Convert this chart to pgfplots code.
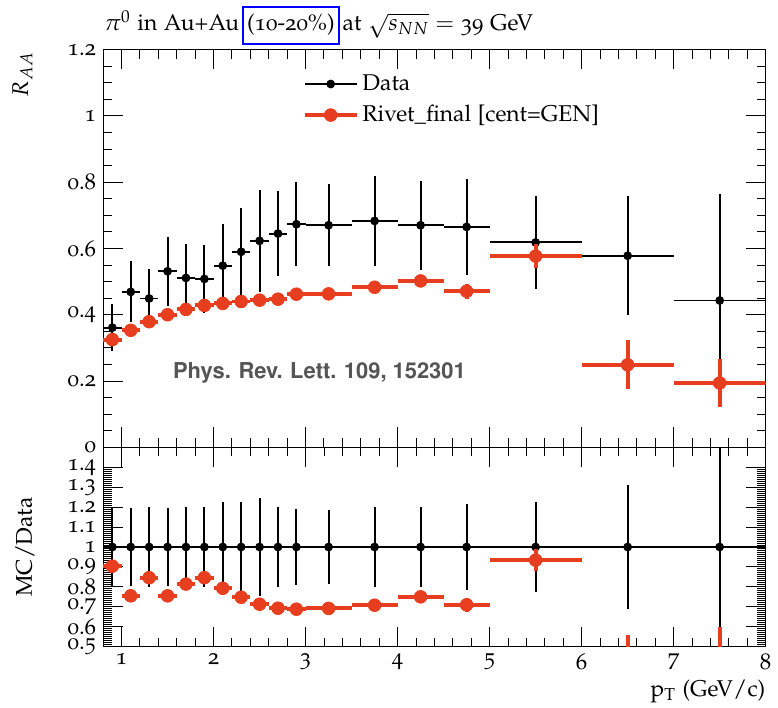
\documentclass[border=0pt]{standalone}
\usepackage[T1]{fontenc}
\usepackage[osf]{mathpazo}
\usepackage[scaled=0.92]{helvet}
\usepackage{pgfplots}
\usepackage{pgfplotstable}
\pgfplotsset{compat=1.18}
\definecolor{rivetred}{RGB}{232,62,32}
\definecolor{notegray}{RGB}{85,85,85}

% R_AA, data
\pgfplotstableread{
x ex y ey
0.9 0.1 0.361 0.070
1.1 0.1 0.469 0.092
1.3 0.1 0.449 0.090
1.5 0.1 0.531 0.105
1.7 0.1 0.511 0.102
1.9 0.1 0.508 0.102
2.1 0.1 0.548 0.125
2.3 0.1 0.590 0.132
2.5 0.1 0.623 0.153
2.7 0.1 0.645 0.128
2.9 0.1 0.673 0.127
3.25 0.25 0.670 0.124
3.75 0.25 0.683 0.137
4.25 0.25 0.670 0.134
4.75 0.25 0.665 0.144
5.5 0.5 0.618 0.140
6.5 0.5 0.578 0.180
7.5 0.5 0.443 0.320
}\datatab

% R_AA, Rivet
\pgfplotstableread{
x ex y ey
0.9 0.1 0.325 0.012
1.1 0.1 0.353 0.012
1.3 0.1 0.379 0.012
1.5 0.1 0.400 0.012
1.7 0.1 0.416 0.012
1.9 0.1 0.428 0.012
2.1 0.1 0.434 0.012
2.3 0.1 0.440 0.012
2.5 0.1 0.444 0.012
2.7 0.1 0.447 0.012
2.9 0.1 0.462 0.012
3.25 0.25 0.463 0.012
3.75 0.25 0.483 0.012
4.25 0.25 0.502 0.012
4.75 0.25 0.471 0.022
5.5 0.5 0.577 0.035
6.5 0.5 0.249 0.074
7.5 0.5 0.194 0.072
}\mctab

% ratio, data
\pgfplotstableread{
x ex y ey
0.9 0.1 1 0.194
1.1 0.1 1 0.196
1.3 0.1 1 0.200
1.5 0.1 1 0.198
1.7 0.1 1 0.200
1.9 0.1 1 0.200
2.1 0.1 1 0.228
2.3 0.1 1 0.224
2.5 0.1 1 0.245
2.7 0.1 1 0.199
2.9 0.1 1 0.189
3.25 0.25 1 0.185
3.75 0.25 1 0.200
4.25 0.25 1 0.200
4.75 0.25 1 0.217
5.5 0.5 1 0.227
6.5 0.5 1 0.311
7.5 0.5 1 0.722
}\rdatatab

% ratio, Rivet/data
\pgfplotstableread{
x ex y ey
0.9 0.1 0.904 0.033
1.1 0.1 0.755 0.026
1.3 0.1 0.846 0.027
1.5 0.1 0.755 0.023
1.7 0.1 0.814 0.023
1.9 0.1 0.846 0.024
2.1 0.1 0.793 0.022
2.3 0.1 0.748 0.020
2.5 0.1 0.713 0.019
2.7 0.1 0.693 0.019
2.9 0.1 0.688 0.018
3.25 0.25 0.692 0.018
3.75 0.25 0.708 0.018
4.25 0.25 0.750 0.018
4.75 0.25 0.710 0.035
5.5 0.5 0.934 0.055
6.5 0.5 0.431 0.128
7.5 0.5 0.438 0.163
}\rmctab

\pgfplotsset{
  rivet/.style={
    scale only axis, width=334pt,
    xmin=0.8, xmax=8,
    xtick={1,2,3,4,5,6,7,8}, minor x tick num=4,
    xtick pos=both, ytick pos=both,
    xticklabel pos=lower, yticklabel pos=left,
    tick align=inside,
    major tick length=10pt, minor tick length=4.5pt,
    every tick/.style={black, line width=0.5pt},
    axis line style={line width=0.6pt},
    font=\fontsize{11.5}{14}\selectfont,
    /pgf/number format/assume math mode=true,
    clip marker paths=true,
  },
  datastyle/.style={only marks, mark=*, mark size=2pt, black,
    mark options={fill=black, draw=black},
    error bars/x dir=both, error bars/x explicit,
    error bars/y dir=both, error bars/y explicit,
    error bars/error mark=none,
    error bars/error bar style={line width=1pt, black}},
  mcstyle/.style={only marks, mark=*, mark size=3.2pt, rivetred,
    mark options={fill=rivetred, draw=rivetred},
    error bars/x dir=both, error bars/x explicit,
    error bars/y dir=both, error bars/y explicit,
    error bars/error mark=none,
    error bars/error bar style={line width=2pt, rivetred}},
}
\setlength{\fboxrule}{1pt}
\setlength{\fboxsep}{1.5pt}

\begin{document}
\begin{tikzpicture}
\begin{axis}[rivet, name=top,
  height=200.5pt,
  ymin=0, ymax=1.2,
  ytick={0,0.2,0.4,0.6,0.8,1,1.2}, minor y tick num=3,
  xticklabels={},
  ylabel={$R_{AA}$},
  ylabel style={at={(rel axis cs:-0.106,0.995)}, anchor=south east, inner sep=0pt},
  legend style={at={(0.292,0.958)}, anchor=north west, draw=none, fill=none,
    row sep=2pt, font=\fontsize{11.5}{14}\selectfont},
  legend cell align=left,
]
\addplot[datastyle, legend image code/.code={
    \draw[black, line width=1pt] (0pt,0pt) -- (26pt,0pt);
    \fill[black] (13pt,0pt) circle (2pt);}]
  table[x=x, y=y, x error=ex, y error=ey] {\datatab};
\addlegendentry{Data}
\addplot[mcstyle, legend image code/.code={
    \draw[rivetred, line width=2pt] (0pt,0pt) -- (26pt,0pt);
    \fill[rivetred] (13pt,0pt) circle (3.2pt);}]
  table[x=x, y=y, x error=ex, y error=ey] {\mctab};
\addlegendentry{Rivet\_final [cent=GEN]}
\node[text=notegray, font=\sffamily\bfseries\fontsize{12}{14}\selectfont]
  at (axis cs:3.15,0.224) {Phys. Rev. Lett. 109, 152301};
\end{axis}

% plot title, left-aligned with the frame
\node[anchor=base west, inner sep=0pt, font=\fontsize{11.5}{14}\selectfont]
  at ([xshift=0.5pt, yshift=9.5pt]top.north west)
  {$\pi^0$ in Au+Au\hspace{1.5pt}\fcolorbox{blue}{white}{\rule[-4.5pt]{0pt}{14.5pt}(10-20\%)}\hspace{1.5pt}at $\sqrt{s_{NN}}={}$39 GeV};

\begin{axis}[rivet, name=bottom,
  at={(top.south west)}, anchor=north west,
  height=100.5pt,
  ymin=0.5, ymax=1.5,
  ytick={0.5,0.6,0.7,0.8,0.9,1,1.1,1.2,1.3,1.4}, minor y tick num=9,
  ylabel={MC/Data},
  ylabel style={at={(rel axis cs:-0.103,0.5)}, anchor=south, inner sep=0pt},
  xlabel={p$_\mathrm{T}$ (GeV$/$c)},
  xlabel style={at={(rel axis cs:1,0)}, anchor=north east, yshift=-16.5pt, inner sep=0pt},
]
\addplot[datastyle] table[x=x, y=y, x error=ex, y error=ey] {\rdatatab};
\addplot[mcstyle] table[x=x, y=y, x error=ex, y error=ey] {\rmctab};
\end{axis}

\path ([xshift=-52pt, yshift=25pt]top.north west)
  rectangle ([xshift=3pt, yshift=-30.5pt]bottom.south east);
\end{tikzpicture}
\end{document}
